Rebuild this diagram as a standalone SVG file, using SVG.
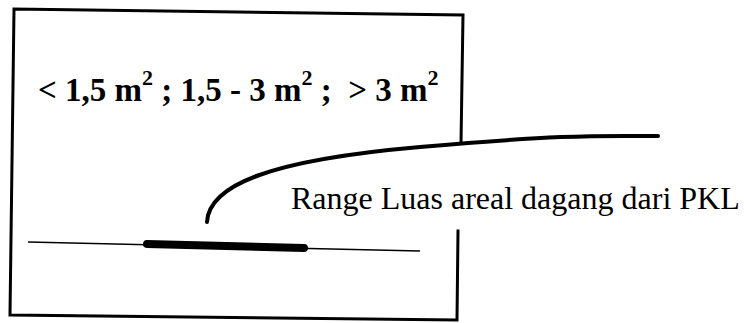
<svg xmlns="http://www.w3.org/2000/svg" width="744" height="323" viewBox="0 0 744 323">
<style>
.edge{fill:none;stroke:#000;stroke-width:3;stroke-linecap:square}
.t{font-family:"Liberation Serif","Times New Roman",serif;fill:#000}
.b{font-weight:bold;font-size:33px}
.sup{font-size:22px}
</style>
<rect width="744" height="323" fill="#fff"/>
<g id="frame">
<path class="edge" d="M461,143 L463,15 L14,9 L10,315 L457,320 L458,231"/>
</g>
<g id="range-text">
<text class="t b" x="38" y="101">&lt; 1,5 m<tspan class="sup" dy="-16">2</tspan><tspan dy="16"> ; 1,5 - 3 m</tspan><tspan class="sup" dy="-16">2</tspan><tspan dy="16"> ; &#160;&gt; 3 m</tspan><tspan class="sup" dy="-16">2</tspan></text>
</g>
<g id="scale">
<line x1="28" y1="242" x2="420" y2="251" stroke="#000" stroke-width="1.5"/>
<line x1="147" y1="244" x2="304" y2="248" stroke="#000" stroke-width="8" stroke-linecap="round"/>
</g>
<g id="connectors">
<path d="M207,222 C209,185 270,160 420,147 S600,136 658,136" fill="none" stroke="#000" stroke-width="4" stroke-linecap="round"/>
</g>
<g id="label">
<text class="t" x="291" y="209" font-size="32">Range Luas areal dagang dari PKL</text>
</g>
</svg>
